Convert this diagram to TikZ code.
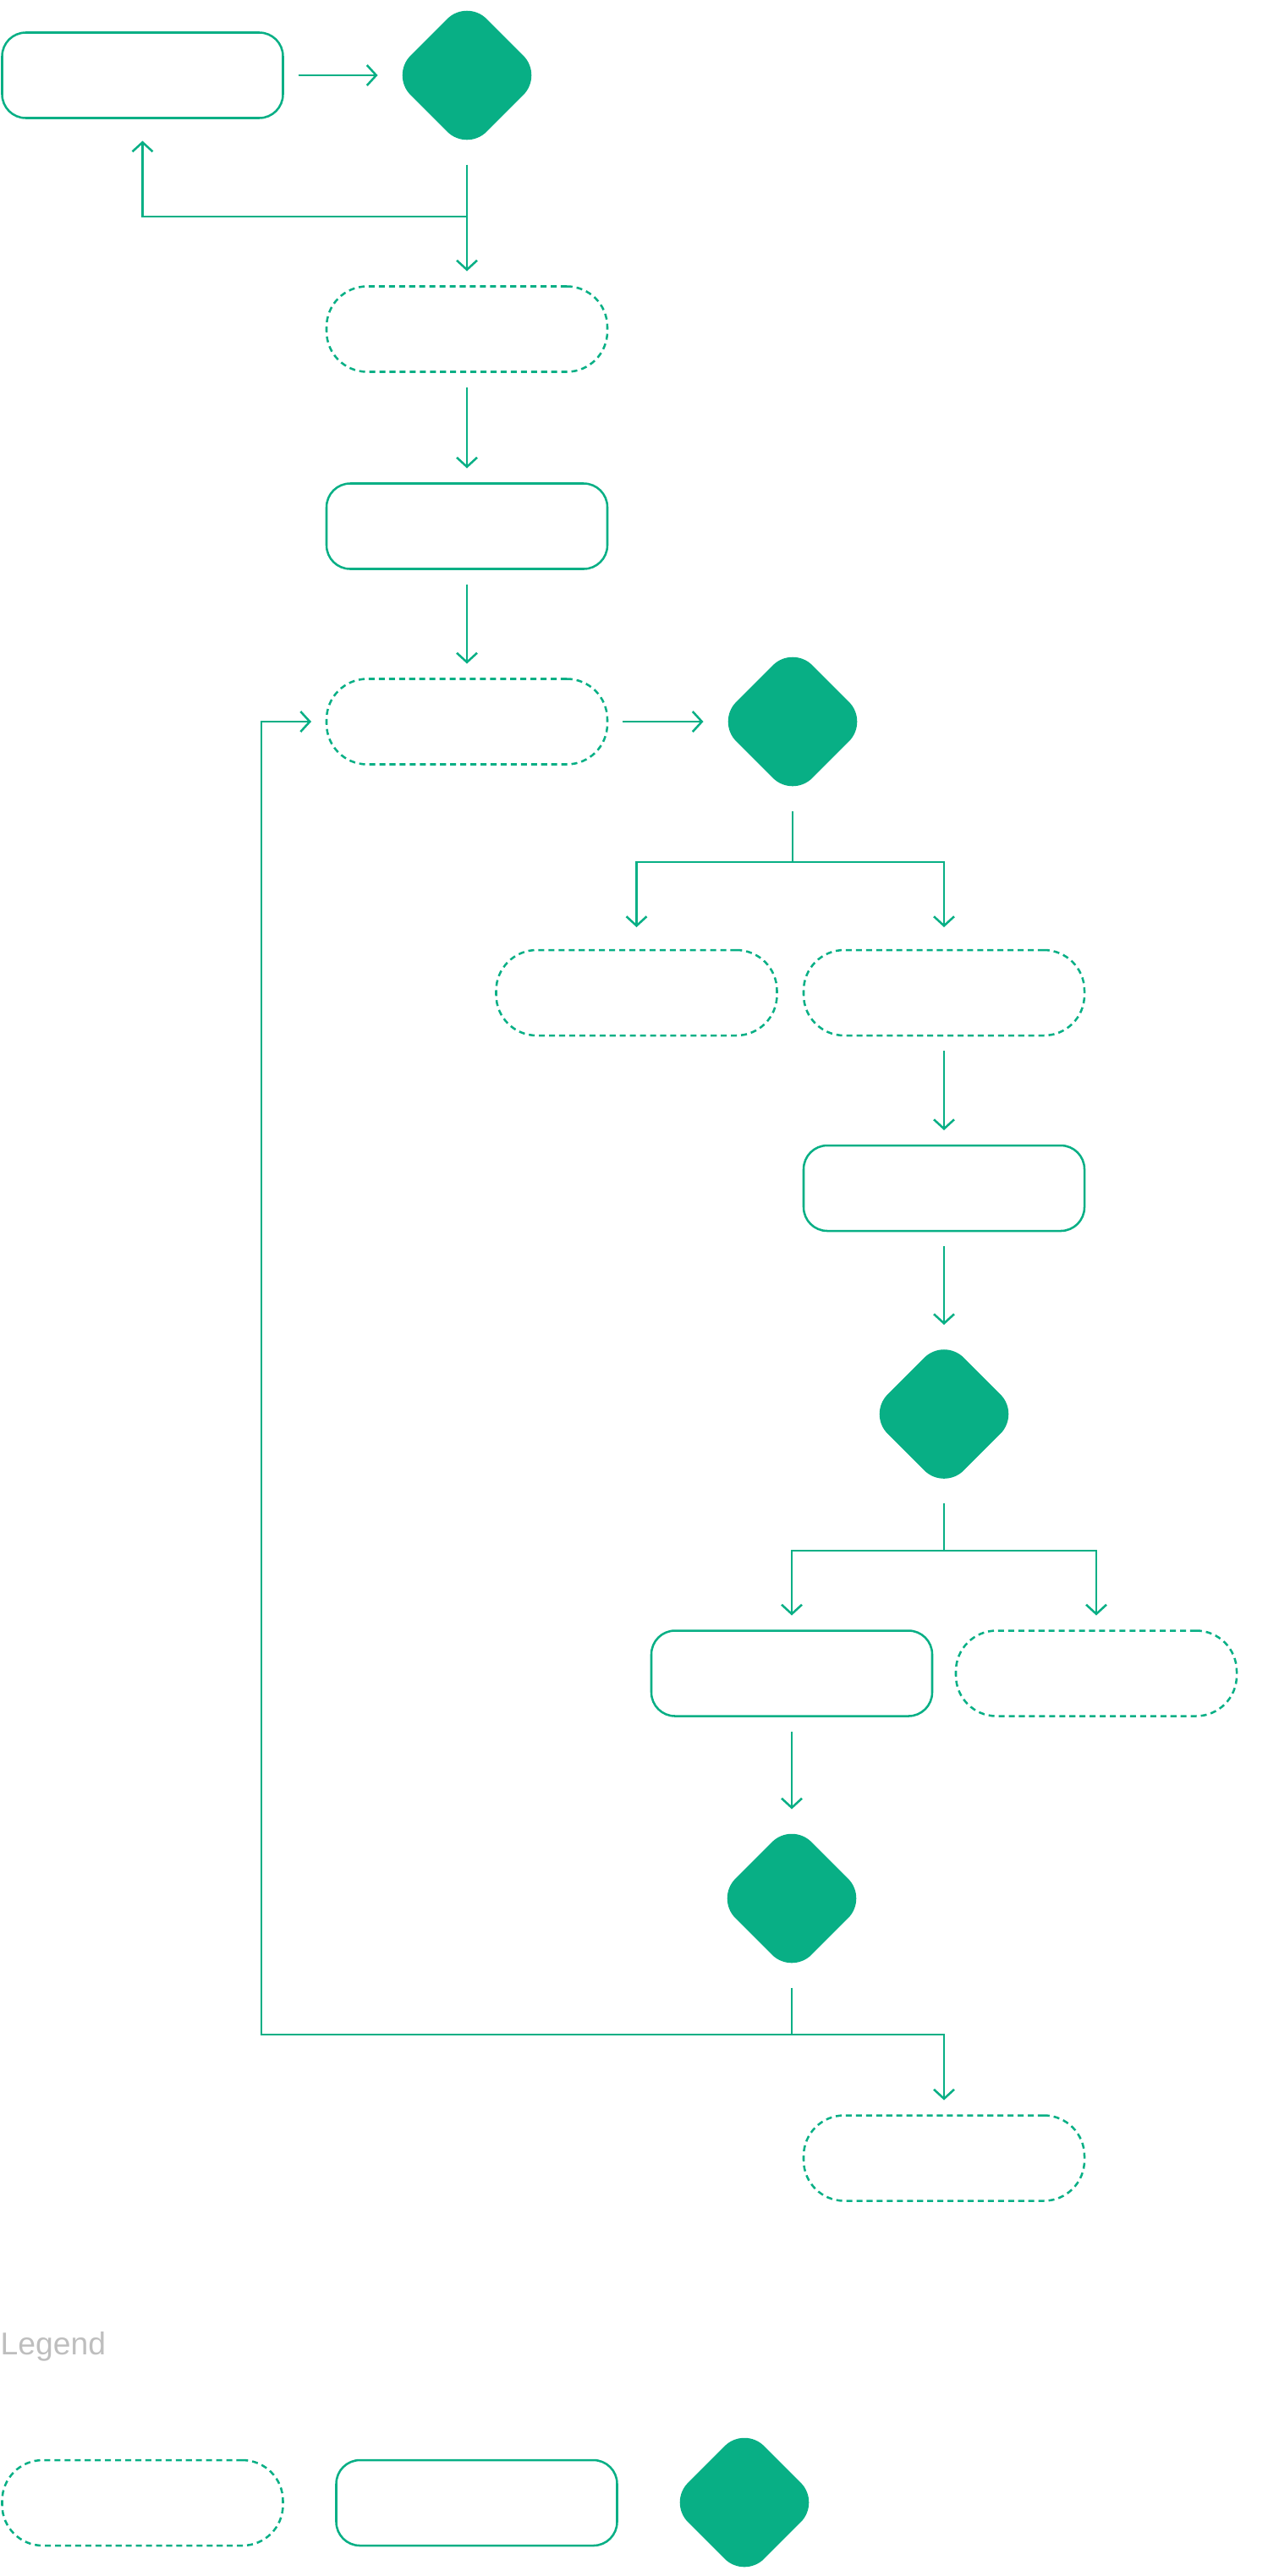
\documentclass[tikz,border=0pt]{standalone}
\usepackage{fontspec}
\setmainfont{Liberation Sans}
\usepackage{tikz}
\usetikzlibrary{shapes.geometric,arrows.meta}
\definecolor{flowgreen}{RGB}{8,175,133}
\definecolor{legendgray}{RGB}{190,190,190}

\begin{document}
\begin{tikzpicture}[
		line/.style={draw=flowgreen, line width=0.72pt},
		flow/.style={line, -{Straight Barb[length=1.1mm, width=2.4mm]}},
		solidbox/.style={draw=flowgreen, line width=0.72pt, rounded corners=0.28cm, minimum width=3.32cm, minimum height=1.01cm, inner sep=0, outer sep=0.18cm},
		dashbox/.style={solidbox, dash pattern=on 2pt off 1.4pt, rounded corners=0.48cm},
		decision/.style={diamond, fill=flowgreen, rounded corners=0.33cm, minimum width=1.89cm, minimum height=1.89cm, inner sep=0, outer sep=0.11cm}
	]
		\useasboundingbox (0,0) rectangle (14.99,-30.45);
		% flow
		\node[solidbox] (a) at (1.685,-0.89) {};
		\node[decision] (d1) at (5.52,-0.89) {};
		\node[dashbox] (b) at (5.52,-3.89) {};
		\node[solidbox] (c) at (5.52,-6.22) {};
		\node[dashbox] (e) at (5.52,-8.53) {};
		\node[decision] (d2) at (9.37,-8.53) {};
		\node[dashbox] (f) at (7.525,-11.735) {};
		\node[dashbox] (g) at (11.16,-11.735) {};
		\node[solidbox] (h) at (11.16,-14.045) {};
		\node[decision] (d3) at (11.16,-16.715) {};
		\node[solidbox] (i) at (9.36,-19.78) {};
		\node[dashbox] (j) at (12.96,-19.78) {};
		\node[decision] (d4) at (9.36,-22.44) {};
		\node[dashbox] (k) at (11.16,-25.51) {};
		\coordinate (j1) at (5.52,-2.56);
		\coordinate (j2) at (9.37,-10.19);
		\coordinate (j3) at (11.16,-18.33);
		\coordinate (j4) at (9.36,-24.05);
		\coordinate (back) at (3.09,-24.05);
		\draw[flow] (a.east) -- (d1.west);
		\draw[flow] (d1.south) -- (b.north);
		\draw[flow, shorten >=0.09cm] (j1) -| (a.south);
		\draw[flow] (b) -- (c);
		\draw[flow] (c) -- (e);
		\draw[flow] (e.east) -- (d2.west);
		\draw[line] (d2.south) -- (j2);
		\draw[flow, shorten >=0.09cm] (j2) -| (f.north);
		\draw[flow, shorten >=0.09cm] (j2) -| (g.north);
		\draw[flow] (g) -- (h);
		\draw[flow] (h) -- (d3);
		\draw[line] (d3.south) -- (j3);
		\draw[flow] (j3) -| (i.north);
		\draw[flow] (j3) -| (j.north);
		\draw[flow] (i) -- (d4);
		\draw[line] (d4.south) -- (j4);
		\draw[flow] (j4) -| (k.north);
		\draw[flow] (j4) -- (back) |- (e.west);
		% legend
		\node[anchor=base west, inner sep=0, text=legendgray, font=\fontsize{10.6pt}{12pt}\selectfont] (legend) at (0,-27.83) {Legend};
		\node[dashbox] (l1) at (1.685,-29.585) {};
		\node[solidbox] (l2) at (5.635,-29.585) {};
		\node[decision] (l3) at (8.80,-29.58) {};
	\end{tikzpicture}
\end{document}
